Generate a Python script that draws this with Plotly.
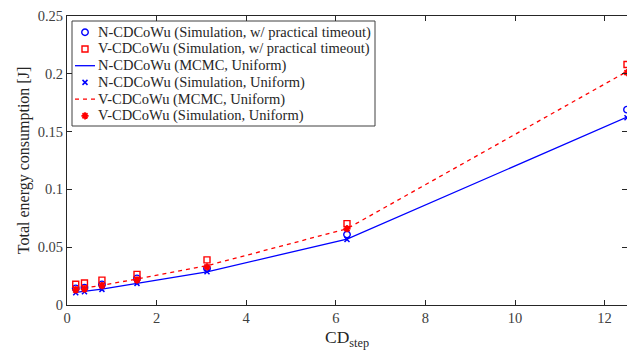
import plotly.graph_objects as go

cd_step = [0.195, 0.39, 0.78, 1.5625, 3.125, 6.25, 12.5]

n_sim_practical = [0.0144, 0.0150, 0.0178, 0.0230, 0.0316, 0.0610, 0.1690]
v_sim_practical = [0.0180, 0.0190, 0.0215, 0.0265, 0.0390, 0.0704, 0.2080]
n_mcmc_uniform = [0.0110, 0.0120, 0.0138, 0.0187, 0.0287, 0.0570, 0.1625]
n_sim_uniform = [0.0106, 0.0115, 0.0135, 0.0187, 0.0287, 0.0566, 0.1620]
v_mcmc_uniform = [0.0135, 0.0145, 0.0170, 0.0225, 0.0340, 0.0660, 0.2020]
v_sim_uniform = [0.0130, 0.0138, 0.0167, 0.0216, 0.0330, 0.0660, 0.2010]

series_names = [
    "N-CDCoWu (Simulation, w/ practical timeout)",
    "V-CDCoWu (Simulation, w/ practical timeout)",
    "N-CDCoWu (MCMC, Uniform)",
    "N-CDCoWu (Simulation, Uniform)",
    "V-CDCoWu (MCMC, Uniform)",
    "V-CDCoWu (Simulation, Uniform)",
]

x_ticks = [0, 2, 4, 6, 8, 10, 12]
y_ticks = [0, 0.05, 0.1, 0.15, 0.2, 0.25]
y_tick_labels = ["0", "0.05", "0.1", "0.15", "0.2", "0.25"]

BLUE = "rgb(0,0,255)"
RED = "rgb(255,0,0)"
FONT = "Liberation Serif, Times New Roman, serif"

W, H = 627, 358
M_L, M_R, M_T, M_B = 67, 0, 16, 53
PW, PH = W - M_L - M_R, H - M_T - M_B

# series styles (one per series, same order as series_names)
styles = [
    dict(kind="marker", marker=dict(symbol="circle-open", size=6.5, color=BLUE, line=dict(width=1.4, color=BLUE))),
    dict(kind="marker", marker=dict(symbol="square-open", size=6, color=RED, line=dict(width=1.4, color=RED))),
    dict(kind="line", line=dict(color=BLUE, width=1.3)),
    dict(kind="marker", marker=dict(symbol="x-thin-open", size=5, color=BLUE, line=dict(width=1.5, color=BLUE))),
    dict(kind="line", line=dict(color=RED, width=1.3, dash="4px,4px")),
    dict(kind="marker", marker=dict(symbol="asterisk-open", size=6, color=RED, line=dict(width=1.8, color=RED))),
]
series_values = [n_sim_practical, v_sim_practical, n_mcmc_uniform,
                 n_sim_uniform, v_mcmc_uniform, v_sim_uniform]

fig = go.Figure()
for name, vals, st in zip(series_names, series_values, styles):
    if st["kind"] == "marker":
        fig.add_trace(go.Scatter(x=cd_step, y=vals, mode="markers", name=name,
                                 marker=st["marker"], showlegend=False))
    else:
        fig.add_trace(go.Scatter(x=cd_step, y=vals, mode="lines", name=name,
                                 line=st["line"], showlegend=False))


# ---- hand-built legend (MATLAB-like compact layout) ----
def px(xpix):
    return (xpix - M_L) / PW


def py(ypix):
    return (M_T + PH - ypix) / PH


LEG_L, LEG_R, LEG_T, LEG_B = 72, 375, 21, 126
ROW0, ROW_H = 32.3, 16.7
SYM_L, SYM_R, TXT_X = 75, 95, 96

fig.add_shape(type="rect", xref="paper", yref="paper",
              x0=px(LEG_L), x1=px(LEG_R), y0=py(LEG_B), y1=py(LEG_T),
              line=dict(color="#404040", width=1), fillcolor="white", layer="below")

for i, (name, st) in enumerate(zip(series_names, styles)):
    yc = ROW0 + i * ROW_H
    if st["kind"] == "line":
        fig.add_shape(type="line", xref="paper", yref="paper",
                      x0=px(SYM_L), x1=px(SYM_R), y0=py(yc), y1=py(yc),
                      line=st["line"], layer="above")
    else:
        fig.add_trace(go.Scatter(x=[px((SYM_L + SYM_R) / 2)], y=[py(yc)], mode="markers",
                                 marker=st["marker"], xaxis="x2", yaxis="y2",
                                 showlegend=False, hoverinfo="skip"))
    fig.add_annotation(x=px(TXT_X), y=py(yc), xref="paper", yref="paper",
                       text=name, showarrow=False, xanchor="left", yanchor="middle",
                       font=dict(family=FONT, size=14.5, color="#262626"))

axis_common = dict(showline=True, linecolor="#262626", linewidth=1, mirror="ticks",
                   ticks="inside", ticklen=5, tickcolor="#262626",
                   showgrid=False, zeroline=False,
                   tickfont=dict(family=FONT, size=14.5, color="#404040"))

fig.update_layout(xaxis=dict(range=[0, 12.5], tickvals=x_ticks, ticktext=[str(t) for t in x_ticks],
                             title=dict(text="CD<sub>step</sub>",
                                        font=dict(family=FONT, size=17.5, color="#262626"), standoff=5),
                             **axis_common),
                  yaxis=dict(range=[0, 0.25], tickvals=y_ticks, ticktext=y_tick_labels,
                             title=dict(text="Total energy consumption [J]",
                                        font=dict(family=FONT, size=16, color="#262626"), standoff=4),
                             **axis_common),
                  xaxis2=dict(overlaying="x", range=[0, 1], visible=False, fixedrange=True),
                  yaxis2=dict(overlaying="y", range=[0, 1], visible=False, fixedrange=True))

fig.update_layout(
    width=W, height=H,
    margin=dict(l=M_L, r=M_R, t=M_T, b=M_B),
    paper_bgcolor="white", plot_bgcolor="white",
    showlegend=False,
)

fig.write_html("out.html")
